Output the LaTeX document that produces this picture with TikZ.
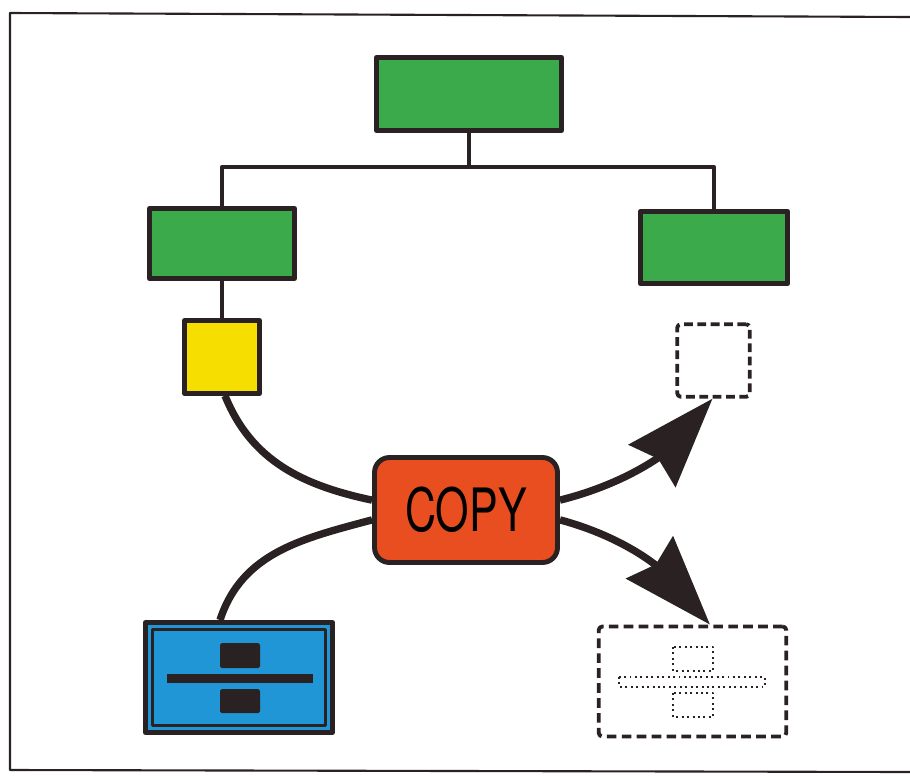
\documentclass[tikz,border=0pt]{standalone}
\usepackage{tikz}
\usepackage{xcolor}
\usepackage{fontspec}
\setsansfont{TeX Gyre Heros}
\usetikzlibrary{arrows.meta,positioning,calc}
\definecolor{Ink}{RGB}{42,34,34}
\definecolor{BoxGreen}{RGB}{58,170,74}
\definecolor{BoxYellow}{RGB}{246,222,0}
\definecolor{BoxOrange}{RGB}{232,78,32}
\definecolor{BoxBlue}{RGB}{32,150,215}

\begin{document}
\begin{tikzpicture}[x=0.02cm, y=-0.02cm, line join=round,
  box/.style={draw=Ink, line width=2.8pt},
  ghost/.style={draw=Ink, line width=2.2pt, dash pattern=on 5pt off 2.6pt, rounded corners=2pt},
  wire/.style={draw=Ink, line width=1.9pt},
  feed/.style={draw=Ink, line width=4.2pt},
  flow/.style={draw=Ink, line width=4.2pt, -{Stealth[length=1.8cm, width=1.25cm, inset=0.18cm]}},
  faint/.style={draw=Ink, line width=1.1pt, dotted}]
\useasboundingbox (0,0) rectangle (910,775);
% frame
\draw[Ink, line width=1.2pt] (910,17) -- (10,13) -- (10,770) -- (910,772);

\node[box, fill=BoxGreen, minimum width=3.7cm, minimum height=1.46cm] (root) at (469,94) {};
\node[box, fill=BoxGreen, minimum width=2.9cm, minimum height=1.4cm] (lft) at (222,243.5) {};
\node[box, fill=BoxGreen, minimum width=2.95cm, minimum height=1.45cm] (rgt) at (714,247.5) {};
\node[box, fill=BoxYellow, minimum width=1.5cm, minimum height=1.45cm] (src) at (222,357) {};
\node[ghost, minimum width=1.45cm, minimum height=1.45cm] (dst) at (713.5,360.5) {};
\node[box, fill=BoxOrange, rounded corners=0.3cm, minimum width=3.66cm, minimum height=2.1cm,
  font=\sffamily\fontsize{34}{34}\selectfont] (copy) at (466,510) {\scalebox{0.72}[1]{COPY}};
\node[box, fill=BoxBlue, minimum width=3.74cm, minimum height=2.2cm] (blk) at (239,677.5) {};
\node[ghost, dash pattern=on 5.5pt off 3pt, minimum width=3.75cm, minimum height=2.2cm] (dup) at (692.5,681.5) {};

% tree
\coordinate (bus) at (469,167);
\draw[wire] (root.south) -- (bus);
\draw[wire] (bus) -| (lft.north);
\draw[wire] (bus) -| (rgt.north);
\draw[wire] (lft.south) -- (src.north);

% copy paths
\draw[feed] ([xshift=0.06cm]src.south) to[out=-68, in=168] (copy.174);
\draw[feed] ([xshift=-0.38cm]blk.north) to[out=72, in=195] (copy.186);
\draw[flow] (copy.6) to[out=14, in=228] ([xshift=-0.02cm]dst.south);
\draw[flow] (copy.-6) to[out=-15, in=132] ([xshift=0.35cm]dup.north);

% block contents
\draw[Ink, line width=1.7pt] ($(blk.north west)+(9,9)$) rectangle ($(blk.south east)+(-9,-9)$);
\fill[Ink, rounded corners=1pt] ($(blk)+(-19,-34.5)$) rectangle ($(blk)+(21,-9.5)$);
\fill[Ink] ($(blk)+(-72,-3.5)$) rectangle ($(blk)+(74,5.5)$);
\fill[Ink, rounded corners=1pt] ($(blk)+(-19,11.5)$) rectangle ($(blk)+(21,35.5)$);

\draw[faint] ($(dup)+(-19.5,-34.5)$) rectangle ($(dup)+(20.5,-10.5)$);
\draw[faint] ($(dup)+(-73.5,-4.5)$) rectangle ($(dup)+(72.5,5.5)$);
\draw[faint] ($(dup)+(-19.5,11.5)$) rectangle ($(dup)+(20.5,35.5)$);
\end{tikzpicture}
\end{document}
